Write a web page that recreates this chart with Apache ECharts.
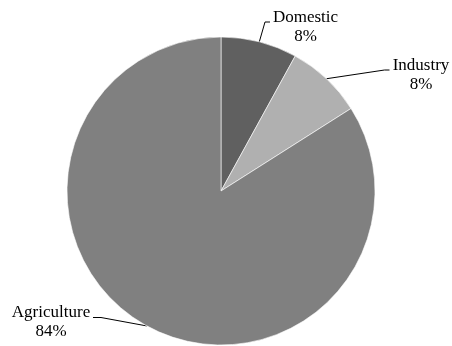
<!DOCTYPE html>
<html lang="en">

<head>
    <meta http-equiv="content-type" content="text/html;charset=UTF-8">
    <title>Water use</title>
    <style>
        html, body { margin: 0; padding: 0; background: #fff; overflow: hidden; }
        #pieChart { width: 452px; height: 346px; }
        #fontWarm { position: absolute; left: -9999px; top: 0; font: 17px 'Liberation Serif'; }
    </style>
</head>

<body>
    <!-- 预加载字体 -->
    <span id="fontWarm">Domestic Industry Agriculture 84%</span>
    <div id="pieChart"></div>
    <script src="https://cdn.jsdelivr.net/npm/echarts@6/dist/echarts.min.js"></script>
    <script>
        // 数据
        var categories = ['Domestic', 'Industry', 'Agriculture'];
        var shares = [8, 8, 84];
        var sliceColors = ['#606060', '#b0b0b0', '#808080'];

        // 标签位置 (label center x / y, leader line y)
        var labelSpots = {
            Domestic: { x: 305.5, y: 27.5, lineY: 22, side: 'left' },
            Industry: { x: 421, y: 75.5, lineY: 70, side: 'left' },
            Agriculture: { x: 51, y: 322.5, lineY: 317.5, side: 'right' }
        };
        var labelHalfW = { Domestic: 32.5, Industry: 28.5, Agriculture: 39 };

        // force the font to resolve before drawing
        document.getElementById('fontWarm').offsetWidth;

        var pieData = [];
        for (var i = 0; i < categories.length; i++) {
            pieData.push({
                name: categories[i],
                value: shares[i],
                itemStyle: { color: sliceColors[i] }
            });
        }

        var myChart = echarts.init(document.getElementById('pieChart'));

        var option = {
            animation: false,
            backgroundColor: '#fff',
            series: [{
                type: 'pie',
                center: [221, 191],
                radius: 154,
                startAngle: 90,
                clockwise: true,
                avoidLabelOverlap: false,
                itemStyle: {
                    borderColor: '#ffffff',
                    borderWidth: 0.6
                },
                label: {
                    show: true,
                    position: 'outside',
                    formatter: '{n|{b}}\n{n|{d}%}',
                    fontFamily: 'Liberation Serif',
                    fontSize: 17,
                    color: '#000',
                    rich: {
                        n: {
                            fontFamily: 'Liberation Serif',
                            fontSize: 17,
                            lineHeight: 19,
                            color: '#000',
                            align: 'center'
                        }
                    }
                },
                labelLine: {
                    show: true,
                    length: 10,
                    length2: 5,
                    lineStyle: { color: '#000', width: 1 }
                },
                labelLayout: function (params) {
                    var name = categories[params.dataIndex];
                    var spot = labelSpots[name];
                    if (!spot) return {};
                    var start = params.labelLinePoints ? params.labelLinePoints[0] : null;
                    var res = {
                        x: spot.x,
                        y: spot.y,
                        align: 'center',
                        verticalAlign: 'middle'
                    };
                    if (start) {
                        var edge, knee;
                        if (spot.side === 'left') {
                            edge = spot.x - labelHalfW[name] - 3;
                            knee = edge - 5;
                        } else {
                            edge = spot.x + labelHalfW[name] + 3;
                            knee = edge + 8;
                        }
                        res.labelLinePoints = [start, [knee, spot.lineY], [edge, spot.lineY]];
                    }
                    return res;
                },
                data: pieData
            }]
        };
        myChart.setOption(option, true);

        // redraw once the font is surely there
        if (document.fonts && document.fonts.load) {
            document.fonts.load('17px "Liberation Serif"').then(function () {
                myChart.setOption(option, true);
            });
        }
    </script>
</body>

</html>
